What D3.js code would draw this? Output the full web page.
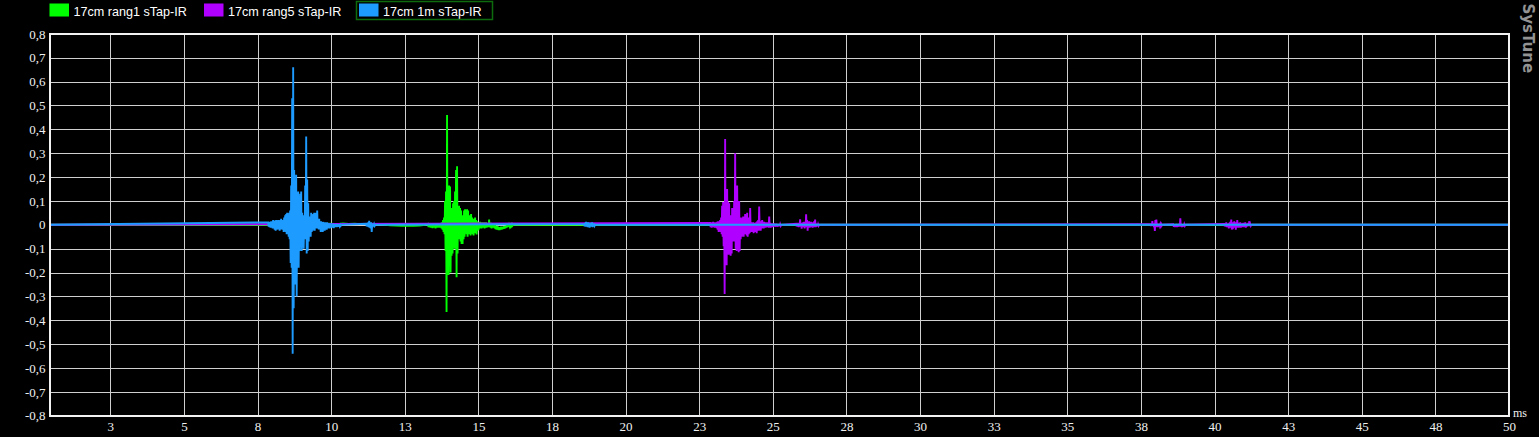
<!DOCTYPE html>
<html><head><meta charset="utf-8">
<script src="https://cdn.jsdelivr.net/npm/d3@7"></script>
<style>
html,body{margin:0;padding:0;background:#000;}
svg{display:block;}
</style></head><body>
<svg id="chart" width="1539" height="437"></svg>
<script>
// ---------- data ----------
const seriesNames = ["17cm rang1 sTap-IR", "17cm rang5 sTap-IR", "17cm 1m sTap-IR"];
const xTickValues = [2.5,5,7.5,10,12.5,15,17.5,20,22.5,25,27.5,30,32.5,35,37.5,40,42.5,45,47.5,50];
const xTickLabels = ["3","5","8","10","13","15","18","20","23","25","28","30","33","35","38","40","43","45","48","50"];
const yTickValues = [0.8,0.7,0.6,0.5,0.4,0.3,0.2,0.1,0,-0.1,-0.2,-0.3,-0.4,-0.5,-0.6,-0.7,-0.8];
const yTickLabels = ["0,8","0,7","0,6","0,5","0,4","0,3","0,2","0,1","0","-0,1","-0,2","-0,3","-0,4","-0,5","-0,6","-0,7","-0,8"];
const xUnit = "ms";
const brand = "SysTune";
const xDomain = [0.435, 50];
const yDomain = [-0.8, 0.8];
const sampleStep = 0.017; // ms between samples

// green: 17cm rang1
const greenDriftStart = 9.6;
const greenDriftStep = 0.2;
const greenDrift = [0,0.004,0.005,0.003,0.006,0.004,0.005,0.003,0.004,0.002,0.003,0.001,-0.002,-0.003,-0.004,-0.003,-0.004,-0.003,0];
const greenBurstStart = 13.29;
const greenBurst = [
 .004,-.010, .006,-.008, .003,-.012, .005,-.010, .002,-.014, .004,-.010, .006,-.012, .003,-.015,
 .005,-.010, .004,-.012, .002,-.010, .006,-.012, .004,-.010, .008,-.015, .010,-.020, .020,-.030,
 .030,-.040, .100,-.110, .140,-.365, .460,-.200, .160,-.210, .165,-.170, .160,-.200, .060,-.130,
 .070,-.120, .090,-.090, .100,-.100, .140,-.080, .230,-.220, .245,-.120, .080,-.050, .080,-.060,
 .070,-.070, .060,-.080, .030,-.080, .040,-.060, .060,-.050, .065,-.035, .060,-.040, .065,-.050,
 .060,-.040, .040,-.035, .030,-.045, .045,-.030, .030,-.040, .020,-.045, .025,-.030, .030,-.035,
 .020,-.040, .015,-.025, .010,-.020, .008,-.015, .012,-.012, .006,-.015, .010,-.010, .008,-.012,
 .010,-.015, .005,-.010, .010,-.012, .005,-.010, .007,-.010, .022,-.008, .005,-.012, .008,-.015,
 .004,-.010, .002,-.012, .000,-.015, .000,-.018, -.005,-.020, -.005,-.020, -.008,-.022, -.010,-.022,
 -.010,-.020, -.008,-.020, -.010,-.018, -.008,-.017, -.006,-.016, -.005,-.014, -.004,-.012, -.002,-.010,
 .002,-.008, .000,-.006, .003,-.005, .001,-.004, .002,-.003, 0
];

// purple: 17cm rang5
const purpleBurstStart = 22.87;
const purpleBurst = [
 .008,-.010, .010,-.012, .006,-.010, .012,-.008, .008,-.012, .010,-.010, .006,-.014, .012,-.020,
 .015,-.030, .012,-.020, .020,-.030, .030,-.040, .080,-.050, .095,-.090, .060,-.290, .360,-.170,
 .150,-.170, .150,-.120, .095,-.125, .090,-.120, .040,-.130, .030,-.120, .070,-.060, .065,-.070,
 .100,-.070, .300,-.100, .100,-.110, .165,-.100, .100,-.115, .100,-.110, .030,-.060, .020,-.050,
 .030,-.040, .035,-.050, .030,-.030, .045,-.040, .040,-.045, .050,-.050, .020,-.040, .030,-.035,
 .070,-.030, .010,-.030, .008,-.020, .010,-.035, .005,-.030, .008,-.025, .010,-.035, .015,-.020,
 .020,-.025, .077,-.020, .015,-.025, .010,-.015, .020,-.012, .010,-.015, .012,-.010, .008,-.012,
 .010,-.008, .006,-.010, .010,-.012, .035,-.010, .008,-.012, .005,-.008, .006,-.010, .004,-.008,
 .006,-.006, .003,-.008, .005,-.006, .002,-.008, .004,-.005, .003,-.006, .002,-.004, 0
];
const purpleTailStart = 25.79;
const purpleTail = [
 .004,-.006, .005,-.008, .008,-.010, .006,-.008, .023,-.005, .005,-.016, .008,-.010, .010,-.008,
 .012,-.015, .008,-.010, .044,-.010, .020,-.025, .012,-.010, .015,-.012, .010,-.010, .012,-.008,
 .006,-.012, .010,-.008, .015,-.010, .022,-.010, .005,-.008, .004,-.006, .002,-.004, 0
];
const purpleLate1Start = 37.82;
const purpleLate1 = [
 .003,-.005, .005,-.004, .015,-.005, .006,-.010, .005,-.026, .020,-.010, .022,-.005, .005,-.010,
 .004,-.006, .005,-.004, .003,-.005, .002,-.003, 0
];
const purpleLate2Start = 38.60;
const purpleLate2 = [
 .002,-.008, .003,-.010, .002,-.008, .004,-.010, .002,-.006, .003,-.008, .005,-.006, .027,-.008,
 .004,-.010, .002,-.008, .003,-.006, .002,-.004, 0
];
const purpleLate3Start = 40.33;
const purpleLate3 = [
 .004,-.006, .006,-.008, .010,-.010, .005,-.010, .004,-.015, .008,-.010, .012,-.012, .022,-.020,
 .010,-.018, .008,-.012, .015,-.010, .010,-.020, .006,-.012, .020,-.010, .008,-.012, .006,-.008,
 .010,-.012, .005,-.008, .006,-.010, .008,-.010, .004,-.006, .010,-.012, .005,-.008, .004,-.006,
 .008,-.005, .015,-.006, .003,-.004, 0
];

// blue: 17cm 1m
const blueBurstStart = 7.86;
const blueBurst = [
 .010,-.008, .012,-.010, .008,-.012, .015,-.010, .010,-.015, .020,-.012, .015,-.020, .018,-.025,
 .020,-.018, .012,-.020, .020,-.015, .015,-.025, .020,-.020, .025,-.015, .015,-.020, .020,-.030,
 .030,-.025, .040,-.030, .045,-.040, .050,-.035, .035,-.050, .050,-.060, .060,-.160, .165,-.180,
 .530,-.540, .660,-.350, .230,-.180, .130,-.250, .210,-.300, .120,-.180, .140,-.180, .120,-.110,
 .130,-.090, .140,-.110, .050,-.070, .040,-.100, .040,-.025, .165,-.060, .370,-.120, .190,-.110,
 .090,-.070, .020,-.050, .035,-.050, .050,-.030, .040,-.025, .045,-.015, .050,-.025, .050,-.010,
 .040,-.015, .060,-.010, .020,-.020, .025,-.015, .012,-.030, .015,-.020, .010,-.030, .012,-.020,
 .008,-.025, .010,-.015, .005,-.020, .010,-.015, .004,-.012, .006,-.015, .004,-.010, .006,-.012,
 .002,-.010, .005,-.014, .003,-.010, .004,-.008, .002,-.010, .004,-.006, .002,-.008, .003,-.005,
 0,-.004, 0
];
const blueTail1Start = 11.19;
const blueTail1 = [.004,-.006, .006,-.008, .010,-.010, .017,-.012, .008,-.015, .010,-.030, .005,-.010, .004,-.006, .002,-.004, 0];
const blueTail2Start = 18.59;
const blueTail2 = [.004,-.006, .008,-.008, .012,-.006, .006,-.010, .010,-.008, .004,-.012, .008,-.006, .006,-.008, .010,-.010, .004,-.006, .006,-.004, 0];

const colors = ["#00ff00", "#b000ff", "#1e9bff"];

// ---------- build series ----------
function buildSeries(segs) {
  const pts = [[xDomain[0], 0]];
  segs.forEach(s => s.values.forEach((v, i) => pts.push([s.start + i * s.step, v])));
  pts.push([xDomain[1], 0]);
  pts.sort((a, b) => a[0] - b[0]);
  return pts;
}
const series = [
  buildSeries([
    {start: greenDriftStart, step: greenDriftStep, values: greenDrift},
    {start: greenBurstStart, step: sampleStep, values: greenBurst}
  ]),
  buildSeries([
    {start: purpleBurstStart, step: sampleStep, values: purpleBurst},
    {start: purpleTailStart, step: sampleStep, values: purpleTail},
    {start: purpleLate1Start, step: sampleStep, values: purpleLate1},
    {start: purpleLate2Start, step: sampleStep, values: purpleLate2},
    {start: purpleLate3Start, step: sampleStep, values: purpleLate3}
  ]),
  buildSeries([
    {start: blueBurstStart, step: sampleStep, values: blueBurst},
    {start: blueTail1Start, step: sampleStep, values: blueTail1},
    {start: blueTail2Start, step: sampleStep, values: blueTail2}
  ])
];

// ---------- draw ----------
const svg = d3.select("#chart");
const L = 49.5, R = 1509, T = 33.9, B = 415.7;
const x = d3.scaleLinear().domain(xDomain).range([L, R]);
const y = d3.scaleLinear().domain(yDomain).range([B, T]);

svg.append("rect").attr("width", 1539).attr("height", 437).attr("fill", "#000");

// grid
const gx = svg.append("g").attr("transform", `translate(0,${B})`)
  .call(d3.axisBottom(x).tickValues(xTickValues.filter(v => v < xDomain[1])).tickSize(-(B - T)).tickFormat(""));
gx.select(".domain").remove();
gx.selectAll("line").attr("stroke", "#cfcfcf").attr("stroke-width", 1).attr("shape-rendering", "crispEdges");

const gy = svg.append("g").attr("transform", `translate(${L},0)`)
  .call(d3.axisLeft(y).tickValues(yTickValues.filter(v => v > yDomain[0] && v < yDomain[1])).tickSize(-(R - L)).tickFormat(""));
gy.select(".domain").remove();
gy.selectAll("line").attr("stroke", "#cfcfcf").attr("stroke-width", 1).attr("shape-rendering", "crispEdges");

// data
svg.append("clipPath").attr("id", "clip").append("rect")
  .attr("x", L).attr("y", T).attr("width", R - L).attr("height", B - T);
const line = d3.line().x(d => x(d[0])).y(d => y(d[1]));
const gData = svg.append("g").attr("clip-path", "url(#clip)");
series.forEach((s, i) => {
  gData.append("path").datum(s).attr("d", line)
    .attr("fill", "none").attr("stroke", colors[i]).attr("stroke-width", 1.9)
    .attr("stroke-linejoin", "miter");
});

// frame
svg.append("rect").attr("x", L).attr("y", T).attr("width", R - L).attr("height", B - T)
  .attr("fill", "none").attr("stroke", "#f2f2f2").attr("stroke-width", 2).attr("shape-rendering", "crispEdges");

// axis labels
const xl = svg.append("g").attr("transform", `translate(0,${B})`)
  .call(d3.axisBottom(x).tickValues(xTickValues).tickSize(0).tickFormat((d, i) => xTickLabels[i]));
xl.select(".domain").remove();
xl.selectAll("text").attr("y", 15).attr("dy", 0)
  .attr("fill", "#f0f0f0").attr("font-family", "'Liberation Serif', serif").attr("font-size", 13);

const yl = svg.append("g").attr("transform", `translate(${L},0)`)
  .call(d3.axisLeft(y).tickValues(yTickValues).tickSize(0).tickFormat((d, i) => yTickLabels[i]));
yl.select(".domain").remove();
yl.selectAll("text").attr("x", -4).attr("dy", "0.32em")
  .attr("fill", "#f0f0f0").attr("font-family", "'Liberation Serif', serif").attr("font-size", 13);

svg.append("text").attr("x", R + 4).attr("y", B + 1).text(xUnit)
  .attr("fill", "#f0f0f0").attr("font-family", "'Liberation Serif', serif").attr("font-size", 12);

// brand
svg.append("text").attr("transform", `translate(1522.5,3.5) rotate(90)`).text(brand)
  .attr("fill", "#939393").attr("font-family", "'DejaVu Sans', sans-serif").attr("font-weight", "bold").attr("font-size", 15);

// legend
const legX = [49.5, 204, 359];
const lg = svg.append("g");
seriesNames.forEach((n, i) => {
  lg.append("rect").attr("x", legX[i]).attr("y", 3.5).attr("width", 19.5).attr("height", 13).attr("fill", colors[i]);
  lg.append("text").attr("x", legX[i] + 24).attr("y", 15.5).text(n)
    .attr("fill", "#ffffff").attr("font-family", "'Liberation Sans', Arial, sans-serif").attr("font-size", 12.6);
});
lg.append("rect").attr("x", 356.5).attr("y", 1.5).attr("width", 136).attr("height", 18)
  .attr("fill", "none").attr("stroke", "#0d6a0d").attr("stroke-width", 1.5);
</script>
</body></html>
